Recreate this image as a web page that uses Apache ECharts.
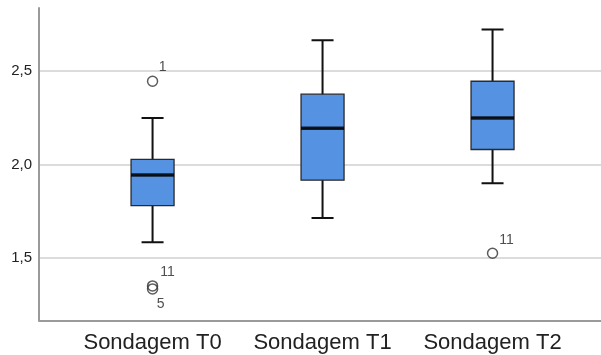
<!DOCTYPE html>
<html>
<head>
<meta charset="utf-8">
<script src="https://cdn.jsdelivr.net/npm/echarts@6/dist/echarts.min.js"></script>
<style>
html,body{margin:0;padding:0;background:#fff;}
#c{width:601px;height:355px;}
</style>
</head>
<body>
<div id="c"></div>
<script>
// Data
const categories = ['Sondagem T0', 'Sondagem T1', 'Sondagem T2'];
// [lower whisker, Q1, median, Q3, upper whisker]
const boxT0 = [1.584, 1.780, 1.943, 2.027, 2.249];
const boxT1 = [1.714, 1.916, 2.194, 2.376, 2.665];
const boxT2 = [1.900, 2.080, 2.249, 2.445, 2.722];
// outliers: category index, value, case label
const outlierCategory = [0, 0, 0, 2];
const outlierValues = [2.445, 1.350, 1.334, 1.525];
const outlierLabels = ['1', '11', '5', '11'];
const yTicks = [1.5, 2.0, 2.5];

const boxes = [boxT0, boxT1, boxT2];
// whiskers (with half-width caps); inner box collapsed onto the median, hidden beneath the body
const whiskerData = boxes.map((b, i) => [i, b[0], b[2], b[2], b[2], b[4]]);
// box body (full width)
const bodyData = boxes.map((b, i) => [i, b[1], b[1], b[2], b[3], b[3]]);
const medianData = boxes.map((b, i) => [i, b[2]]);
const labelOffsets = [[10, -14], [15, -14], [8, 15], [14, -13]];
const outlierData = outlierValues.map((v, i) => ({
  value: [outlierCategory[i], v],
  label: { offset: labelOffsets[i] }
}));

const xMin = -0.668, xMax = 2.638;
const font = 'Liberation Sans, Arial, sans-serif';

const chart = echarts.init(document.getElementById('c'), null, { renderer: 'canvas' });
chart.setOption({
  backgroundColor: '#fff',
  animation: false,
  grid: { left: 39, right: 0, top: 8, bottom: 34.5, containLabel: false },
  xAxis: [{
    type: 'value',
    min: xMin,
    max: xMax,
    axisLine: { show: true, onZero: false, lineStyle: { color: '#9a9a9a', width: 2 } },
    axisTick: { show: false },
    splitLine: { show: false },
    axisLabel: {
      customValues: [0, 1, 2],
      formatter: v => categories[Math.round(v)],
      fontFamily: font,
      fontSize: 22,
      color: '#222',
      margin: 11
    }
  }, {
    type: 'value',
    min: xMin,
    max: xMax,
    show: false
  }],
  yAxis: {
    type: 'value',
    min: 1.165,
    max: 2.837,
    axisLine: { show: true, onZero: false, lineStyle: { color: '#9a9a9a', width: 2 } },
    axisTick: { show: false, customValues: yTicks },
    splitLine: { show: true, lineStyle: { color: '#d0d0d0', width: 1.5 } },
    axisLabel: {
      customValues: yTicks,
      formatter: v => v.toFixed(1).replace('.', ','),
      fontFamily: font,
      fontSize: 15,
      color: '#222',
      margin: 7
    }
  },
  series: [
    {
      type: 'boxplot',
      layout: 'horizontal',
      xAxisIndex: 0,
      data: whiskerData,
      boxWidth: [22, 22],
      itemStyle: { color: '#5592e2', borderColor: '#111', borderWidth: 2 },
      emphasis: { disabled: true },
      z: 2
    },
    {
      type: 'boxplot',
      layout: 'horizontal',
      xAxisIndex: 1,
      data: bodyData,
      boxWidth: [43, 43],
      itemStyle: { color: '#5592e2', borderColor: '#2a2a2a', borderWidth: 1.3 },
      emphasis: { disabled: true },
      z: 3
    },
    {
      type: 'scatter',
      xAxisIndex: 0,
      data: medianData,
      symbol: 'rect',
      symbolSize: [43, 3.5],
      itemStyle: { color: '#000' },
      emphasis: { disabled: true },
      z: 4
    },
    {
      type: 'scatter',
      xAxisIndex: 0,
      data: outlierData,
      symbol: 'circle',
      symbolSize: 10,
      itemStyle: { color: 'rgba(0,0,0,0)', borderColor: '#333', borderWidth: 1.5 },
      label: {
        show: true,
        position: 'inside',
        formatter: p => outlierLabels[p.dataIndex],
        fontFamily: font,
        fontSize: 14,
        color: '#222'
      },
      emphasis: { disabled: true },
      z: 5
    }
  ]
});
</script>
</body>
</html>
